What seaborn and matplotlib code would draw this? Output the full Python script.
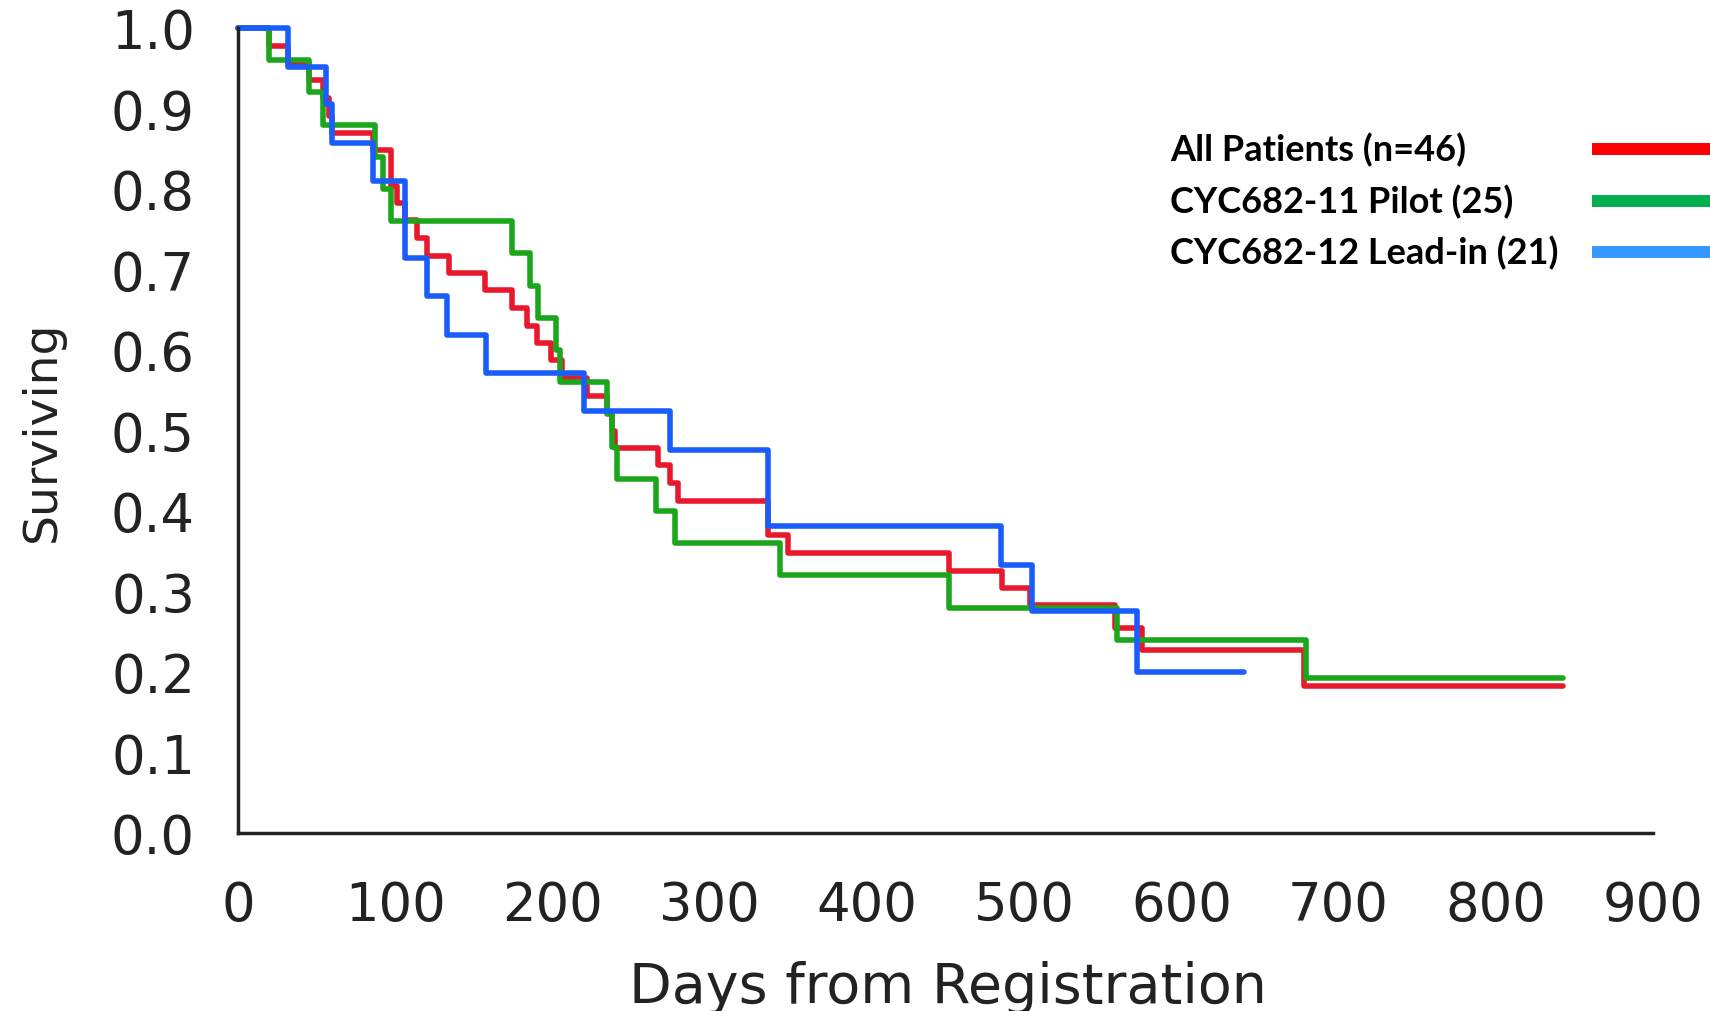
import matplotlib
matplotlib.use("Agg")
import matplotlib.pyplot as plt
from matplotlib.lines import Line2D
import numpy as np
import pandas as pd
import seaborn as sns

# Kaplan-Meier steps (day of step, survival after step)
all_days = [0, 20, 32, 45, 54, 58, 60, 86, 97, 101, 106, 114, 120, 134, 157, 174, 184, 190, 199,
            206, 222, 235, 238, 240, 267, 275, 280, 337, 350, 452, 486, 504, 558, 575, 678, 843]
all_surv = [1.0, .978, .957, .935, .913, .891, .870, .848, .804, .783, .761, .739, .717, .696, .674,
            .652, .630, .609, .587, .565, .543, .522, .500, .478, .457, .435, .413, .370, .348,
            .326, .304, .283, .255, .227, .182, .182]

pilot_days = [0, 20, 45, 54, 87, 92, 97, 174, 186, 191, 202, 205, 235, 238, 241, 266, 278,
              345, 452, 559, 679, 843]
pilot_surv = [1.0, .96, .92, .88, .84, .80, .76, .72, .68, .64, .60, .56, .52, .48, .44, .40,
              .36, .32, .28, .24, .192, .192]

leadin_days = [0, 32, 56, 60, 86, 106, 120, 133, 158, 220, 275, 337, 485, 505, 572, 640]
leadin_surv = [1.0, .952, .905, .857, .810, .714, .667, .619, .571, .524, .476, .381, .333,
               .276, .200, .200]

groups = ['All Patients (n=46)', 'CYC682-11 Pilot (25)', 'CYC682-12 Lead-in (21)']
line_colors = ['#e8192c', '#1ca61c', '#1a5dfa']
legend_colors = ['#ff0000', '#00b050', '#3399ff']

df = pd.concat([
    pd.DataFrame({'day': all_days, 'surv': all_surv, 'group': groups[0]}),
    pd.DataFrame({'day': pilot_days, 'surv': pilot_surv, 'group': groups[1]}),
    pd.DataFrame({'day': leadin_days, 'surv': leadin_surv, 'group': groups[2]}),
])

sns.set_style('white')
plt.rcParams['font.family'] = ['DejaVu Sans']

W, H = 1710, 1012
fig = plt.figure(figsize=(W / 100, H / 100), dpi=100)
ax = fig.add_axes([238 / W, (H - 834) / H, (1653 - 238) / W, (834 - 29) / H])

sns.lineplot(data=df, x='day', y='surv', hue='group', hue_order=groups,
             palette=line_colors, drawstyle='steps-post', estimator=None, sort=False,
             linewidth=4, legend=False, clip_on=False, ax=ax)

ax.set_xlim(0, 900)
ax.set_ylim(0, 1.0)
ax.set_xticks(np.arange(0, 901, 100))
ax.set_yticks(np.arange(0, 1.01, 0.1))
ax.set_yticklabels(['%.1f' % v for v in np.arange(0, 1.01, 0.1)])
ax.tick_params(axis='both', direction='out', length=21, width=2.2, color='#222222',
               labelsize=38, labelcolor='#222222')
ax.tick_params(axis='x', pad=12)
ax.tick_params(axis='y', pad=10)
for s in ['top', 'right']:
    ax.spines[s].set_visible(False)
for s in ['left', 'bottom']:
    ax.spines[s].set_linewidth(2.5)
    ax.spines[s].set_color('#222222')

ax.set_xlabel('Days from Registration', fontsize=40, color='#222222')
ax.set_ylabel('Surviving', fontsize=34, color='#222222')
ax.xaxis.set_label_coords(0.502, -0.158)
ax.yaxis.set_label_coords(-0.122, 0.5)

# legend: bold labels on the left, thick colour bars running off the right edge
rows_y = [150, 202, 253]
for label, c, y in zip(groups, legend_colors, rows_y):
    fig.text(1170 / W, 1 - y / H, label, ha='left', va='center',
             family='Lato', weight='bold', size=26, color='black')
    fig.add_artist(Line2D([1592 / W, 1.0], [1 - y / H, 1 - y / H], transform=fig.transFigure,
                          color=c, linewidth=8.6, solid_capstyle='butt'))

fig.savefig('out.png', dpi=100)
